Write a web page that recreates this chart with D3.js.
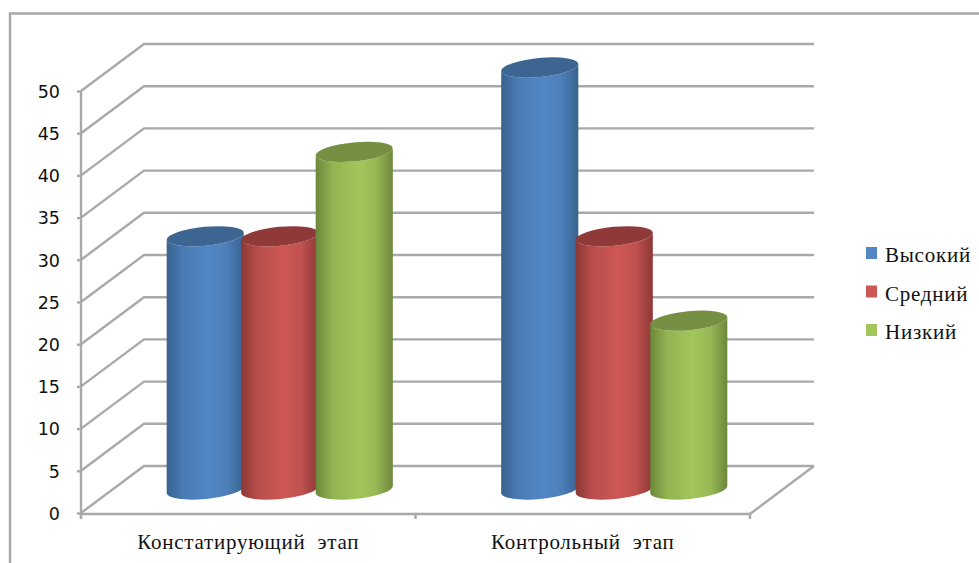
<!DOCTYPE html>
<html lang="ru">
<head>
<meta charset="utf-8">
<script src="https://cdn.jsdelivr.net/npm/d3@7"></script>
<style>
html,body{margin:0;padding:0;background:#fff;overflow:hidden}
svg{display:block}
.num{font-family:"DejaVu Sans",sans-serif;font-size:17.5px;fill:#111}
.ser{font-family:"Liberation Serif",serif;fill:#111;font-size:21px;letter-spacing:0.75px}
</style>
</head>
<body>
<svg id="chart" width="979" height="563"></svg>
<script>
// Chart values
const categories = ["Констатирующий  этап", "Контрольный  этап"];
const seriesNames = ["Высокий", "Средний", "Низкий"];
const high = [30, 50];
const medium = [30, 30];
const low = [40, 20];
const tickValues = [0, 5, 10, 15, 20, 25, 30, 35, 40, 45, 50];

// Colours per series: centre of the cylinder, its shaded edge, its top cap
const palette = [
  {mid: "#5286c5", edge: "#38628f", cap: "#3d6592"},
  {mid: "#cd5754", edge: "#8c3836", cap: "#8f3a39"},
  {mid: "#a2c65b", edge: "#6c873b", cap: "#778f42"}
];
const seriesValues = [high, medium, low];

const svg = d3.select("#chart");
const gridColor = "#a9a9a9";
const gridWidth = 2.4;

// Projection of the 3D box: the back wall sits up and to the right of the front plane
const depth = {x: 63, y: -47};
const x = d3.scaleBand().domain(categories).range([81, 750]);
const y = d3.scaleLinear().domain([0, 50]).range([513, 91]);

// Outer frame, open to the right and bottom edges
svg.append("path")
  .attr("d", "M10,563V13.5H979")
  .attr("fill", "none").attr("stroke", "#a8a8a8").attr("stroke-width", gridWidth);

// Walls and floor gridlines
const grid = svg.append("g").attr("fill", "none").attr("stroke", gridColor).attr("stroke-width", gridWidth);
tickValues.forEach(v => {
  grid.append("path").attr("d", d3.line()([
    [x.range()[0], y(v)],
    [x.range()[0] + depth.x, y(v) + depth.y],
    [x.range()[1] + depth.x + 1, y(v) + depth.y]
  ]));
});
grid.append("path").attr("d", d3.line()([
  [x.range()[1], y(0) + 1],
  [x.range()[1] + depth.x + 1, y(0) + depth.y]
]));

// Value axis
const yAxis = svg.append("g").attr("transform", "translate(81,0)")
  .call(d3.axisLeft(y).tickValues(tickValues).tickSize(4).tickPadding(17));
yAxis.select(".domain").attr("d", `M0,${y(50)}V518`).attr("stroke", gridColor).attr("stroke-width", gridWidth);
yAxis.selectAll(".tick line").attr("stroke", gridColor).attr("stroke-width", gridWidth);
yAxis.selectAll("text").attr("class", "num").attr("dy", "0.36em").attr("fill", null);

// Category axis
const xAxis = svg.append("g").attr("transform", `translate(0,${y(0) + 1})`);
xAxis.append("path").attr("d", d3.line()([[x.range()[0], 0], [x.range()[1], 0]]))
  .attr("stroke", gridColor).attr("stroke-width", gridWidth).attr("fill", "none");
[...categories.map(c => x(c)), x.range()[1]].forEach(px => {
  xAxis.append("line").attr("x1", px).attr("x2", px).attr("y1", 0).attr("y2", 5)
    .attr("stroke", gridColor).attr("stroke-width", gridWidth);
});
xAxis.selectAll("text.cat").data(categories).join("text")
  .attr("class", "ser cat")
  .attr("x", d => x(d) + x.bandwidth() / 2)
  .attr("y", 35)
  .attr("text-anchor", "middle")
  .style("white-space", "pre")
  .text(d => d);

// Gradients that shade each cylinder from edge to centre
const defs = svg.append("defs");
palette.forEach((p, i) => {
  const g = defs.append("linearGradient").attr("id", "cyl" + i);
  [[0, p.edge], [0.22, d3.interpolateRgb(p.edge, p.mid)(0.7)], [0.55, p.mid], [0.78, d3.interpolateRgb(p.edge, p.mid)(0.8)], [1, p.edge]]
    .forEach(([o, c]) => g.append("stop").attr("offset", o).attr("stop-color", c));
});

// Cylinders
const inner = d3.scaleBand().domain(seriesNames).range([-111.75, 111.75]);
const rx = inner.bandwidth() * 0.52, ry = 9.5, tilt = -5.5;
const rad = tilt * Math.PI / 180;
const dx = rx * Math.cos(rad), dy = rx * Math.sin(rad);

categories.forEach((cat, ci) => {
  const groupCentre = x(cat) + x.bandwidth() / 2 + depth.x / 2;
  seriesNames.forEach((name, si) => {
    const cx = groupCentre + inner(name) + inner.bandwidth() / 2;
    const base = y(0) + depth.y / 2;
    const top = y(seriesValues[si][ci]) + depth.y / 2;
    svg.append("path")
      .attr("fill", `url(#cyl${si})`)
      .attr("d", `M${cx - dx},${top - dy}L${cx - dx},${base - dy}` +
        `A${rx},${ry} ${tilt} 0 0 ${cx + dx},${base + dy}` +
        `L${cx + dx},${top + dy}` +
        `A${rx},${ry} ${tilt} 0 1 ${cx - dx},${top - dy}Z`);
    svg.append("ellipse")
      .attr("transform", `translate(${cx},${top}) rotate(${tilt})`)
      .attr("rx", rx).attr("ry", ry)
      .attr("fill", palette[si].cap);
  });
});

// Legend
const legendY = d3.scalePoint().domain(seriesNames).range([254, 331]);
const legend = svg.append("g");
seriesNames.forEach((name, i) => {
  legend.append("rect")
    .attr("x", 866).attr("y", legendY(name) - 7)
    .attr("width", 11).attr("height", 12)
    .attr("fill", palette[i].mid);
  legend.append("text")
    .attr("class", "ser")
    .attr("x", 885).attr("y", legendY(name) + 8)
    .text(name);
});
</script>
</body>
</html>
